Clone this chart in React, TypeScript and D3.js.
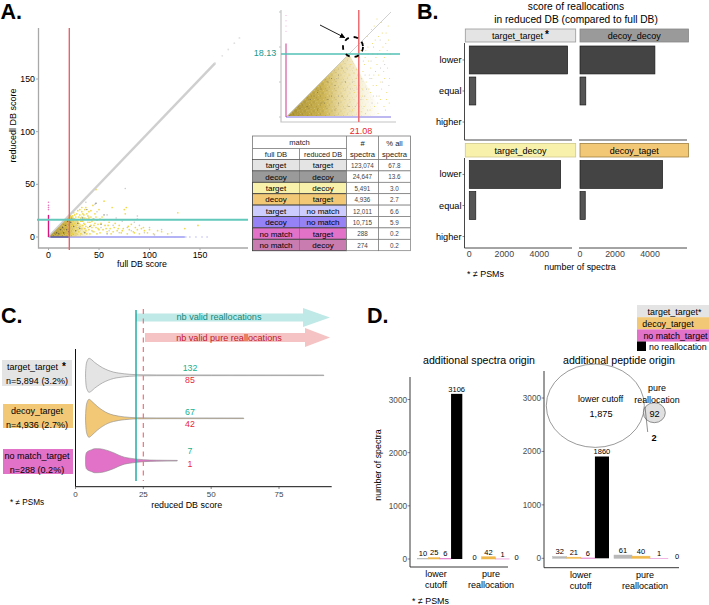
import React from "react";
import * as d3 from "d3";

const FONT = "'Liberation Sans', Arial, sans-serif";
type P = [number, number];

// ---------- Panel A data ----------
const mainYellow: P[] = [[24,20],[26,17],[28,22],[30,19],[32,15],[33,24],[35,21],[36,12],[37,28],[38,17],[39,9],[40,24],[41,14],[42,19],[43,6],[44,30],[45,11],[46,22],[47,45],[48,16],[49,8],[50,26],[51,4],[52,13],[53,19],[54,7],[55,34],[56,11],[58,5],[60,14],[61,8],[62,3],[63,28],[65,9],[66,13],[68,6],[70,11],[72,4],[74,8],[75,26],[76,22],[77,28],[78,3],[80,7],[82,12],[84,5],[86,9],[88,7],[90,3],[92,8],[95,6],[98,4],[100,7],[104,3],[108,6],[112,5],[118,3],[128,23],[135,8],[148,11],[31,26],[34,11],[37,6],[39,20],[43,15],[47,9],[51,17],[57,8],[59,11],[64,5],[69,8],[73,6],[79,10],[85,4],[94,9],
  [22,19],[23,15],[24,11],[25,7],[25,23],[26,13],[27,3],[27,19],[28,9],[29,15],[29,25],[30,5],[30,13],[31,21],[31,10],[32,3],[32,18],[33,8],[33,28],[34,15],[34,22],[35,5],[35,13],[36,18],[36,26],[37,10],[38,3],[38,22],[39,14],[40,7],[40,18],[41,3],[42,11],[42,25],[43,9],[44,17],[45,5],[46,13],[47,19],[48,3],[49,12],[50,7],[29,7],[27,11],[26,21],[24,3],[28,16],[33,19],[36,8]];
const mainGray: P[] = [[30,9],[33,15],[37,33],[40,19],[44,5],[46,31],[48,24],[52,9],[55,16],[58,21],[60,6],[64,11],[67,18],[70,4],[73,15],[76,46],[78,9],[82,6],[85,14],[88,20],[88,17],[90,11],[95,4],[100,9],[105,2],[112,7],[122,4]];
const mainDark: P[] = [[20,5],[22,14],[25,10],[27,6],[29,13],[31,8],[34,18],[36,4],[38,26],[41,10],[45,17],[47,32],[52,12],[55,21],[58,3],[12,7],[15,4],[17,11],[10,3],[19,15],[14,9],[8,4],[18,7],[23,17]];
const blueTail: P[] = [[136,0],[140,0],[146,0],[152,0],[157,0],[125,0],[118,0],[110,0]];
const pinkTop: P[] = [[0,26],[0,28],[0,30],[0,33]];
const diagonalSolid: P[] = [[0,0],[165,165]];
const diagonalFaint: P[] = [[165,165],[172,172],[178,178],[184,184],[189,189]];
const blueLine: P[] = [[0,0],[135,0]];
const blueDark: P[] = [[2,0],[20,0]];
const pinkLine: P[] = [[0,0],[0,21]];
const denseMain: P[] = [[1,0.5],[22,21],[46,0.5]];
const mainXTicks = [0,50,100,150];
const mainYTicks = [0,50,100,150];
const mainCutX = 20.6;
const mainCutY = 16.4;

// ---------- Inset data ----------
const insetDense: P[] = [[0.5,0.3],[18,18],[28,0.3]];
const insetGold: P[] = [[19,2],[19.5,7],[20,11],[20.4,4],[20.8,15],[21,9],[21.5,1.5],[21.8,6],[22,13],[22.3,3],[22.6,17],[22.9,10],[23.1,5],[23.4,20],[23.7,8],[24,2],[24.2,14],[24.5,11],[24.8,18],[25,6],[25.3,3],[25.5,22],[25.8,9],[26,15],[26.3,1],[26.5,12],[26.8,19],[27,5],[27.3,8],[27.5,24],[27.8,16],[28,3],[28.2,11],[28.5,21],[28.8,7],[29,14],[29.2,26],[29.5,4],[29.8,18],[18,12],[18.5,15],[17.5,3],[17,8],[16.5,13],[18.2,5],[19.2,14],[20.2,17],[21.2,19],[22.2,21],[23.2,23],[24.4,25],[26,28],[27.2,27],[28.6,24],[25.2,26],[20.6,7],[23.8,12],[26.6,6],[22.7,1],[24.9,9],[21.6,11],[22.4,15],[23.3,2],[24.1,7],[25.1,12],[26.2,4],[27.1,10],[27.9,13],[28.7,5],[29.6,11],[20.9,3],[19.7,9],[18.8,1.5],[20.1,13.5],[21.9,8],[23.6,16],[24.7,21],[26.4,23],[27.7,20],[29.3,22],[22.8,19],[25.7,17],[28.1,17],[19.4,12.5],[20.7,5.5]];
const insetGray: P[] = [[18.4,8],[19.8,3],[20.5,12],[21.4,5],[22.1,16],[23,8],[24,11],[24.6,4],[25.6,13],[26.2,18],[27.6,10],[28.4,2],[29.4,9],[21,17],[23.5,18],[16,10],[15,6],[14.5,11],[17.2,14],[19,10],[25,20],[27,14],[28.9,19],[22.4,6],[26.9,22],[22.6,12],[24.3,16],[25.9,6],[28.2,15],[20.3,8]];
const insetDark: P[] = [[6,3],[8,6],[9,2],[10,8],[11,4],[12,10],[13,6],[14,2],[15,12],[16,6],[17,10],[18,3],[12,5],[9,7],[7,5],[14,9],[10,4],[13,11],[15,4],[16,14]];
const insetPink: P[] = [[0,24.5],[0,26],[0,27.5],[0,29]];
const insetDiagonal: P[] = [[0,0],[30,30]];
const insetBlue: P[] = [[0,0],[30,0]];
const insetPinkLine: P[] = [[0,0],[0,21]];
const insetYTicks = [0,10,20,30];
const insetCutX = 21.08;
const insetCutY = 18.13;

// speckle texture tile for the densest point clouds
const speckleGold: P[] = [[1,1],[4,2],[7,1.5],[2.5,4],[6,4.5],[0.5,6],[4,7],[8,7.5]];
const speckleDark: P[] = [[3,0.5],[8,3],[1.5,7.8],[5.5,6]];
const speckleLight: P[] = [[0.5,3],[5,0.5],[3.5,5.5],[7,6],[8.5,0.5],[2,2.5],[5.5,3]];

// ---------- Table ----------
const tableFull = ["target","decoy","target","decoy","target","decoy","no match","no match"];
const tableReduced = ["target","decoy","decoy","target","no match","no match","target","decoy"];
const tableCount = ["123,074","24,647","5,491","4,936","12,011","10,715","288","274"];
const tablePct = ["67.8","13.6","3.0","2.7","6.6","5.9","0.2","0.2"];
const tableColor = ["#e4e4e4","#9a9a9a","#f8f1ac","#f2c877","#ccccff","#9682f4","#e272c8","#c97cb0"];

// ---------- Panel B ----------
const scoreBands = ["lower","equal","higher"];
const facetNames = ["target_target","decoy_decoy","target_decoy","decoy_taget"];
const facetColor = ["#e4e4e4","#9a9a9a","#f8f1ac","#f2c877"];
const facetValues = [[5620,370,0],[4280,330,0],[5220,370,0],[4720,300,0]];
const bTicks = [0,2000,4000];

// ---------- Panel C ----------
const violinTT: P[] = [[3.7,2],[3.9,10],[4.4,15],[5,17],[6,15.5],[7,13],[8,11],[10,7.5],[12,5],[14,3.2],[16,2.2],[18,1.5],[20,1],[22,.7],[25,.5],[30,.4],[50,.35],[91.5,.3]];
const violinDT: P[] = [[3.7,2],[3.9,11],[4.4,17],[5,19],[6,17],[7,14.5],[8,12],[10,8],[12,5],[14,3.2],[16,2.1],[18,1.4],[20,.9],[22,.6],[30,.4],[62,.3]];
const violinNM: P[] = [[3.7,4],[4,8],[5,10],[6,11],[7,12],[8,12],[10,11.5],[12,10],[14,8],[16,5.5],[18,3.5],[20,2.5],[22,1.8],[25,1],[30,.5],[37.5,.3]];
const cTicks = [0,25,50,75];
const cCutTeal = 22.3;
const cCutRed = 25;
const violinColor = ["#e4e4e4","#f2c877","#e272c8"];
const violinLabel = ["target_target","decoy_target","no match_target"];
const violinN = ["n=5,894 (3.2%)","n=4,936 (2.7%)","n=288 (0.2%)"];
const validAll = ["132","67","7"];
const validPure = ["85","42","1"];

// ---------- Panel D ----------
const dColors = ["#b8b8b8","#f0b84a","#e272c8","#000000"];
const legendNames = ["target_target*","decoy_target","no match_target"];
const legendFill = ["#e4e4e4","#f2c877","#e272c8"];
const spectraLower = [10,25,6,3106];
const spectraPure = [0,42,1,0];
const peptideLower = [32,21,6,1905];
const peptidePure = [61,40,1,0];
const peptideLowerLabels = ["32","21","6","1860"];
const dTicks = [0,1000,2000,3000];

const T = ({ x, y, s = 8, a = "middle", f = "#000", w, children, rot }: any) => (
  <text x={x} y={y} fontSize={s} textAnchor={a} fill={f} fontWeight={w} transform={rot ? `rotate(${rot} ${x} ${y})` : undefined}>{children}</text>
);

const Speckle = ({ id, size, k }: any) => (
  <pattern id={id} width={size} height={size} patternUnits="userSpaceOnUse">
    {speckleGold.map((d, i) => <circle key={"g"+i} cx={d[0]*k} cy={d[1]*k} r={0.45} fill="#e8c92e" />)}
    {speckleDark.map((d, i) => <circle key={"d"+i} cx={d[0]*k} cy={d[1]*k} r={0.4} fill="#5e5226" />)}
    {speckleLight.map((d, i) => <circle key={"l"+i} cx={d[0]*k} cy={d[1]*k} r={0.4} fill="#f7eec0" />)}
  </pattern>
);

function PanelA() {
  const x = d3.scaleLinear().domain([0,150]).range([48.5,200]);
  const y = d3.scaleLinear().domain([0,150]).range([237,79]);
  const ln = d3.line<P>().x(d => x(d[0])).y(d => y(d[1]));
  const poly = (p: P[]) => p.map(d => `${x(d[0])},${y(d[1])}`).join(" ");
  const dots = (pts: P[], c: string, o: number, r = 0.7) => pts.map((d, i) => <circle key={i} cx={x(d[0])} cy={y(d[1])} r={r} fill={c} opacity={o} />);
  const axis = "#a8a8a8";
  return (
    <g>
      <defs>
        <linearGradient id="mainFade" gradientUnits="userSpaceOnUse" x1={x(0)} x2={x(44)} y1={0} y2={0}>
          <stop offset="0" stopColor="#9a8428" stopOpacity={0.95} />
          <stop offset="0.42" stopColor="#c9a92e" stopOpacity={0.9} />
          <stop offset="0.68" stopColor="#e3cb55" stopOpacity={0.45} />
          <stop offset="1" stopColor="#efe08a" stopOpacity={0} />
        </linearGradient>
        <Speckle id="mainSpeckle" size={4.5} k={0.5} />
        <mask id="mainSpeckleFade"><polygon points={poly(denseMain)} fill="url(#mainFade)" /></mask>
      </defs>
      <path d={`M38.5 28V248H248`} fill="none" stroke={axis} strokeWidth={1.3} />
      {mainYTicks.map(t => <g key={t}><line x1={36} x2={38.5} y1={y(t)} y2={y(t)} stroke={axis} /><T x={35} y={y(t)+3} s={8.8} a="end">{t}</T></g>)}
      {mainXTicks.map(t => <g key={t}><line x1={x(t)} x2={x(t)} y1={248} y2={250} stroke={axis} /><T x={x(t)} y={258} s={8.8}>{t}</T></g>)}
      <T x={142} y={266.5} s={8.8}>full DB score</T>
      <T x={15.5} y={125.5} s={9} rot={-90}>reducedl DB score</T>
      <path d={ln(diagonalSolid)!} stroke="#cfcfcf" strokeWidth={2.4} fill="none" />
      <path d={ln(blueLine)!} stroke="#b3b3f5" strokeWidth={1.8} fill="none" />
      <polygon points={poly(denseMain)} fill="url(#mainFade)" />
      <polygon points={poly(denseMain)} fill="url(#mainSpeckle)" mask="url(#mainSpeckleFade)" />
      <path d={ln(blueDark)!} stroke="#4c4890" strokeWidth={1.2} fill="none" />
      {dots(diagonalFaint, "#dcdcdc", 0.9, 0.9)}
      {dots(mainGray, "#a8a8a8", 0.6, 0.8)}
      {dots(mainYellow, "#f0d63a", 0.95, 0.85)}
      {dots(mainDark, "#4a4a3a", 0.75, 0.7)}
      {dots(blueTail, "#b3b3f5", 0.9, 0.8)}
      {dots(pinkTop, "#e86bb5", 0.9, 0.8)}
      <path d={ln(pinkLine)!} stroke="#d4167e" strokeWidth={1.4} fill="none" />
      <line x1={x(mainCutX)} x2={x(mainCutX)} y1={28} y2={250} stroke="#e8636b" strokeWidth={1.4} />
      <line x1={37} x2={248} y1={y(mainCutY)} y2={y(mainCutY)} stroke="#62c8bb" strokeWidth={2} />
    </g>
  );
}

function Inset() {
  const x = d3.scaleLinear().domain([0,30]).range([286,391]);
  const y = d3.scaleLinear().domain([0,30]).range([117,12]);
  const ln = d3.line<P>().x(d => x(d[0])).y(d => y(d[1]));
  const poly = (p: P[]) => p.map(d => `${x(d[0])},${y(d[1])}`).join(" ");
  const dots = (pts: P[], c: string, o: number) => pts.map((d, i) => <circle key={i} cx={x(d[0])} cy={y(d[1])} r={0.55} fill={c} opacity={o} />);
  const axis = "#c4c4c4";
  return (
    <g>
      <defs>
        <linearGradient id="insetFade" gradientUnits="userSpaceOnUse" x1={x(0)} x2={x(27)} y1={0} y2={0}>
          <stop offset="0" stopColor="#a68e34" stopOpacity={1} />
          <stop offset="0.38" stopColor="#c3a83e" stopOpacity={0.9} />
          <stop offset="0.62" stopColor="#dcc56a" stopOpacity={0.55} />
          <stop offset="1" stopColor="#efe3a8" stopOpacity={0} />
        </linearGradient>
        <Speckle id="insetSpeckle" size={9} k={1} />
        <mask id="insetSpeckleFade"><polygon points={poly(insetDense)} fill="url(#insetFade)" /></mask>
        <marker id="arrowHead" markerWidth="6" markerHeight="6" refX="5" refY="3" orient="auto"><path d="M0 0L6 3L0 6Z" fill="#000" /></marker>
      </defs>
      <path d="M281 10V122H396" fill="none" stroke={axis} strokeWidth={1.2} />
      {insetYTicks.map(t => <line key={t} x1={279} x2={281} y1={y(t)} y2={y(t)} stroke={axis} />)}
      <path d={ln(insetDiagonal)!} stroke="#d0d0d0" strokeWidth={1} fill="none" />
      <polygon points={poly(insetDense)} fill="url(#insetFade)" />
      <polygon points={poly(insetDense)} fill="url(#insetSpeckle)" mask="url(#insetSpeckleFade)" />
      <path d={ln(insetBlue)!} stroke="#bdb9f0" strokeWidth={2} fill="none" />
      {dots(insetGray, "#9c9c9c", 0.6)}
      {dots(insetGold, "#ecd24a", 0.9)}
      {dots(insetDark, "#5b5230", 0.6)}
      {dots(insetPink, "#e86bb5", 0.6)}
      <path d={ln(insetPinkLine)!} stroke="#c91f80" strokeWidth={0.9} fill="none" />
      <line x1={x(insetCutX)-1} x2={x(insetCutX)-1} y1={10} y2={122} stroke="#ef6a70" strokeWidth={1.5} />
      <line x1={281} x2={400} y1={y(insetCutY)+0.5} y2={y(insetCutY)+0.5} stroke="#52c1b4" strokeWidth={1.5} />
      <circle cx={353} cy={47} r={10} fill="none" stroke="#000" strokeWidth={1.8} strokeDasharray="4.5 5" />
      <line x1={320} x2={344.5} y1={25} y2={37.5} stroke="#000" strokeWidth={0.9} markerEnd="url(#arrowHead)" />
      <T x={265} y={56} s={9} f="#159a90">{insetCutY}</T>
      <T x={361} y={133.5} s={9} f="#e8262e">{insetCutX}</T>
    </g>
  );
}

function Table() {
  const xs = [252.5,299.5,346.5,378.5,410.5];
  const top = 159.5, rowH = 11.4;
  const rowY = d3.range(8).map(i => top + i * rowH);
  const g = "#777";
  return (
    <g>
      <rect x={xs[0]} y={136} width={xs[4]-xs[0]} height={top-136} fill="#fff" stroke={g} strokeWidth={0.8} />
      <line x1={xs[0]} x2={xs[2]} y1={148.5} y2={148.5} stroke={g} strokeWidth={0.8} />
      <line x1={xs[1]} x2={xs[1]} y1={148.5} y2={top} stroke={g} strokeWidth={0.8} />
      <line x1={xs[2]} x2={xs[2]} y1={136} y2={top} stroke={g} strokeWidth={0.8} />
      <line x1={xs[3]} x2={xs[3]} y1={136} y2={top} stroke={g} strokeWidth={0.8} />
      <T x={299.5} y={145} s={7.6} f="#222">match</T>
      <T x={276} y={157} s={7.6} f="#222">full DB</T>
      <T x={323} y={157} s={7.2} f="#222">reduced DB</T>
      <T x={362.5} y={146} s={7.6} f="#222">#</T>
      <T x={362.5} y={156.5} s={7.6} f="#222">spectra</T>
      <T x={394.5} y={146} s={7.6} f="#222">% all</T>
      <T x={394.5} y={156.5} s={7.6} f="#222">spectra</T>
      {tableFull.map((name, i) => {
        const ry = rowY[i];
        return (
          <g key={i}>
            <rect x={xs[0]} y={ry} width={xs[2]-xs[0]} height={rowH} fill={tableColor[i]} stroke="#444" strokeWidth={i < 2 ? 0.6 : 0.9} />
            <line x1={xs[1]} x2={xs[1]} y1={ry} y2={ry+rowH} stroke="#555" strokeWidth={0.4} />
            <rect x={xs[2]} y={ry} width={xs[3]-xs[2]} height={rowH} fill="#fff" stroke={g} strokeWidth={0.7} />
            <rect x={xs[3]} y={ry} width={xs[4]-xs[3]} height={rowH} fill="#fff" stroke={g} strokeWidth={0.7} />
            <T x={276} y={ry+8.6} s={8}>{name}</T>
            <T x={323} y={ry+8.6} s={8}>{tableReduced[i]}</T>
            <T x={362.5} y={ry+8.4} s={6.3} f="#444">{tableCount[i]}</T>
            <T x={394.5} y={ry+8.4} s={6.3} f="#444">{tablePct[i]}</T>
          </g>
        );
      })}
    </g>
  );
}

function PanelB() {
  const cols = [{ z: 469.3, s: 465.3, e: 575.7, ax: 464.5, axe: 572 }, { z: 580, s: 580, e: 688.5, ax: 579, axe: 687 }];
  const rows = [{ t: 43, b: 140, st: 29, se: 42 }, { t: 158, b: 248, st: 143.5, se: 157 }];
  return (
    <g>
      <T x={576} y={10} s={10.2}>score of reallocations</T>
      <T x={576} y={23} s={10.2}>in reduced DB (compared to full DB)</T>
      {facetNames.map((n, i) => {
        const c = cols[i % 2], r = rows[Math.floor(i / 2)];
        const x = d3.scaleLinear().domain([0,4000]).range([c.z, c.z + 70]);
        const y = d3.scaleBand().domain(scoreBands).range(i < 2 ? [46,136] : [160.5,250.5]).paddingInner(0.1).paddingOuter(0);
        const strokeC = i === 0 ? "#999" : i === 1 ? "#888" : i === 2 ? "#cfc98a" : "#a08040";
        return (
          <g key={n}>
            <rect x={c.s} y={r.st} width={c.e-c.s} height={r.se-r.st} fill={facetColor[i]} stroke={strokeC} strokeWidth={0.8} />
            <T x={(c.s+c.e)/2 - (i===0?3:0)} y={r.st+10} s={9}>{n}</T>
            {i === 0 && <T x={547} y={38} s={10} w="bold">*</T>}
            <path d={`M${c.ax} ${r.t}V${r.b}H${c.axe}`} fill="none" stroke="#333" strokeWidth={0.9} strokeDasharray={i % 2 === 0 ? undefined : `0 ${r.b-r.t} 200`} />
            {scoreBands.map((b, j) => facetValues[i][j] > 0 && (
              <rect key={b} x={x(0)} y={y(b)} width={x(facetValues[i][j]) - x(0)} height={y.bandwidth()} fill={j === 0 ? "#444" : "#555"} stroke="#1c1c1c" strokeWidth={0.7} />
            ))}
            {i % 2 === 0 && scoreBands.map(b => (
              <g key={b}>
                <line x1={462.5} x2={464.5} y1={y(b)!+y.bandwidth()/2} y2={y(b)!+y.bandwidth()/2} stroke="#333" strokeWidth={0.6} />
                <T x={461.5} y={y(b)!+y.bandwidth()/2+3} s={9.2} a="end">{b}</T>
              </g>
            ))}
            {i >= 2 && bTicks.map(t => <T key={t} x={x(t)} y={256.5} s={8.8} f="#444">{t}</T>)}
          </g>
        );
      })}
      <T x={580} y={270} s={8.9}>number of spectra</T>
      <T x={467} y={277} s={8.9} a="start">* ≠ PSMs</T>
    </g>
  );
}

function PanelC() {
  const x = d3.scaleLinear().domain([0,75]).range([75.5,279]);
  const base = [375.3,418.3,460.7];
  const violins = [violinTT, violinDT, violinNM];
  const boxes = [[2,360,70,26],[3,404,70,24],[3,449,70,25]];
  const labelY = [[367,382],[411,426],[456,471]];
  const numY = [[371,383],[415,427],[454,467]];
  const arrow = (xs: number, xe: number, xh: number, cy: number, sh: number, hh: number) =>
    `M${xs} ${cy-sh}H${xh}V${cy-hh}L${xe} ${cy}L${xh} ${cy+hh}V${cy+sh}H${xs}Z`;
  return (
    <g>
      <path d={arrow(136,330,303,317.5,4,9.5)} fill="#bfe9e6" />
      <path d={arrow(145,330,305,337.5,4.5,9.5)} fill="#f5c3c3" />
      <T x={219} y={320} s={9.1} f="#108a80">nb valid reallocations</T>
      <T x={229} y={341} s={9.1} f="#c2182c">nb valid pure reallocations</T>
      <path d="M75.5 349V486.7H331.7" fill="none" stroke="#111" strokeWidth={1} />
      {cTicks.map(t => <g key={t}><line x1={x(t)} x2={x(t)} y1={486.7} y2={489} stroke="#333" strokeWidth={0.6} /><T x={x(t)} y={497} s={8} f="#444">{t}</T></g>)}
      <T x={186.7} y={508} s={8.9}>reduced DB score</T>
      {violins.map((v, i) => {
        const area = d3.area<P>().x(d => x(d[0])).y0(d => base[i] - d[1]).y1(d => base[i] + d[1]).curve(d3.curveMonotoneX);
        return <path key={i} d={area(v)!} fill={violinColor[i]} stroke="#8a8a8a" strokeWidth={0.6} />;
      })}
      <line x1={x(cCutTeal)} x2={x(cCutTeal)} y1={310} y2={481} stroke="#16a79d" strokeWidth={1.4} />
      <line x1={x(cCutRed)} x2={x(cCutRed)} y1={309} y2={481} stroke="#f4707a" strokeWidth={1.2} strokeDasharray="5 4.5" />
      {violinLabel.map((n, i) => (
        <g key={n}>
          <rect x={boxes[i][0]} y={boxes[i][1]} width={boxes[i][2]} height={boxes[i][3]} fill={violinColor[i]} />
          <T x={i === 0 ? 32.5 : 37} y={labelY[i][0]+3} s={9}>{n}</T>
          {i === 0 && <T x={64} y={370} s={10} w="bold">*</T>}
          <T x={37} y={labelY[i][1]+1.5} s={9}>{violinN[i]}</T>
          <T x={190} y={numY[i][0]} s={8.8} f="#17b08e">{validAll[i]}</T>
          <T x={190} y={numY[i][1]} s={8.8} f="#e8283c">{validPure[i]}</T>
        </g>
      ))}
      <T x={10} y={505} s={8.2} a="start">* ≠ PSMs</T>
    </g>
  );
}

function Bars({ xl, xr, vals, labels, y }: any) {
  const b = d3.scaleBand<number>().domain([0,1,2,3]).range([xl, xr]);
  return (
    <g>
      {vals.map((v: number, i: number) => {
        const top = y(v);
        return (
          <g key={i}>
            {v > 0 && <rect x={b(i)} y={top} width={b.bandwidth()} height={y(0)-top} fill={dColors[i]} stroke={i < 3 ? dColors[i] : "none"} strokeWidth={0.5} />}
            <T x={b(i)! + b.bandwidth()/2} y={v > 0 ? top - 2.2 : top + 1} s={7.5}>{labels ? labels[i] : v}</T>
          </g>
        );
      })}
    </g>
  );
}

function PanelD() {
  const yL = d3.scaleLinear().domain([0,3000]).range([559,399.5]);
  const yR = d3.scaleLinear().domain([0,3000]).range([558.3,398]);
  const tc = "#4d4d4d";
  return (
    <g>
      {legendNames.map((n, i) => (
        <g key={n}>
          <rect x={637} y={305+i*12.2} width={72} height={12.2} fill={legendFill[i]} />
          <T x={[674.5,668,675.5][i]} y={314.5+i*12.2} s={8.9}>{n}</T>
        </g>
      ))}
      <rect x={637} y={341.5} width={9} height={9.5} fill="#000" />
      <T x={649} y={349.5} s={8.9} a="start">no reallocation</T>
      <T x={479} y={364} s={10.6}>additional spectra origin</T>
      <T x={619} y={364} s={10.6}>additional peptide origin</T>

      <path d="M410 377V567H508" fill="none" stroke="#222" strokeWidth={0.9} />
      {dTicks.map(t => <g key={t}><line x1={407.5} x2={410} y1={yL(t)} y2={yL(t)} stroke="#333" strokeWidth={0.6} /><T x={407} y={yL(t)+3} s={8.2} a="end" f={tc}>{t}</T></g>)}
      <T x={381} y={465} s={8.9} rot={-90}>number of spectra</T>
      <Bars xl={417.3} xr={462.3} vals={spectraLower} y={yL} />
      <Bars xl={467.5} xr={523.5} vals={spectraPure} y={yL} />
      <T x={436} y={577} s={9}>lower</T>
      <T x={436} y={588} s={9}>cutoff</T>
      <T x={491} y={577} s={9}>pure</T>
      <T x={491} y={588} s={9}>reallocation</T>
      <T x={412} y={604} s={8.9} a="start">* ≠ PSMs</T>

      <path d="M544 371V567.7H679" fill="none" stroke="#222" strokeWidth={0.9} />
      {dTicks.map(t => <g key={t}><line x1={541.5} x2={544} y1={yR(t)} y2={yR(t)} stroke="#333" strokeWidth={0.6} /><T x={541} y={yR(t)+3} s={8.2} a="end" f={tc}>{t}</T></g>)}
      <Bars xl={552.7} xr={609} vals={peptideLower} labels={peptideLowerLabels} y={yR} />
      <Bars xl={614} xr={686} vals={peptidePure} y={yR} />
      <T x={580.7} y={578} s={9}>lower</T>
      <T x={580.7} y={589} s={9}>cutoff</T>
      <T x={645} y={578} s={9}>pure</T>
      <T x={645} y={589} s={9}>reallocation</T>

      <ellipse cx={595.3} cy={405.7} rx={49} ry={41.7} fill="none" stroke="#555" strokeWidth={0.6} />
      <ellipse cx={654.3} cy={412.7} rx={11} ry={10} fill="#e0e0e0" stroke="#666" strokeWidth={0.7} />
      <line x1={645} x2={647.7} y1={407} y2={432} stroke="#444" strokeWidth={0.6} />
      <T x={600.7} y={402} s={8.9}>lower cutoff</T>
      <T x={601} y={416.5} s={9.2}>1,875</T>
      <T x={657} y={391} s={8.9}>pure</T>
      <T x={657} y={402.5} s={8.9}>reallocation</T>
      <T x={654.5} y={416.5} s={9.2}>92</T>
      <T x={654} y={440.5} s={9.2} w="bold">2</T>
    </g>
  );
}

export default function App() {
  return (
    <svg width={709} height={605} viewBox="0 0 709 605" style={{ position: "absolute", left: 0, top: 0, background: "#fff" }} fontFamily={FONT}>
      <T x={0.5} y={18.5} s={21.5} a="start" w="bold">A.</T>
      <T x={417} y={18.5} s={21.5} a="start" w="bold">B.</T>
      <T x={1} y={323} s={21.5} a="start" w="bold">C.</T>
      <T x={367} y={323} s={21.5} a="start" w="bold">D.</T>
      <PanelA />
      <Inset />
      <Table />
      <PanelB />
      <PanelC />
      <PanelD />
    </svg>
  );
}
